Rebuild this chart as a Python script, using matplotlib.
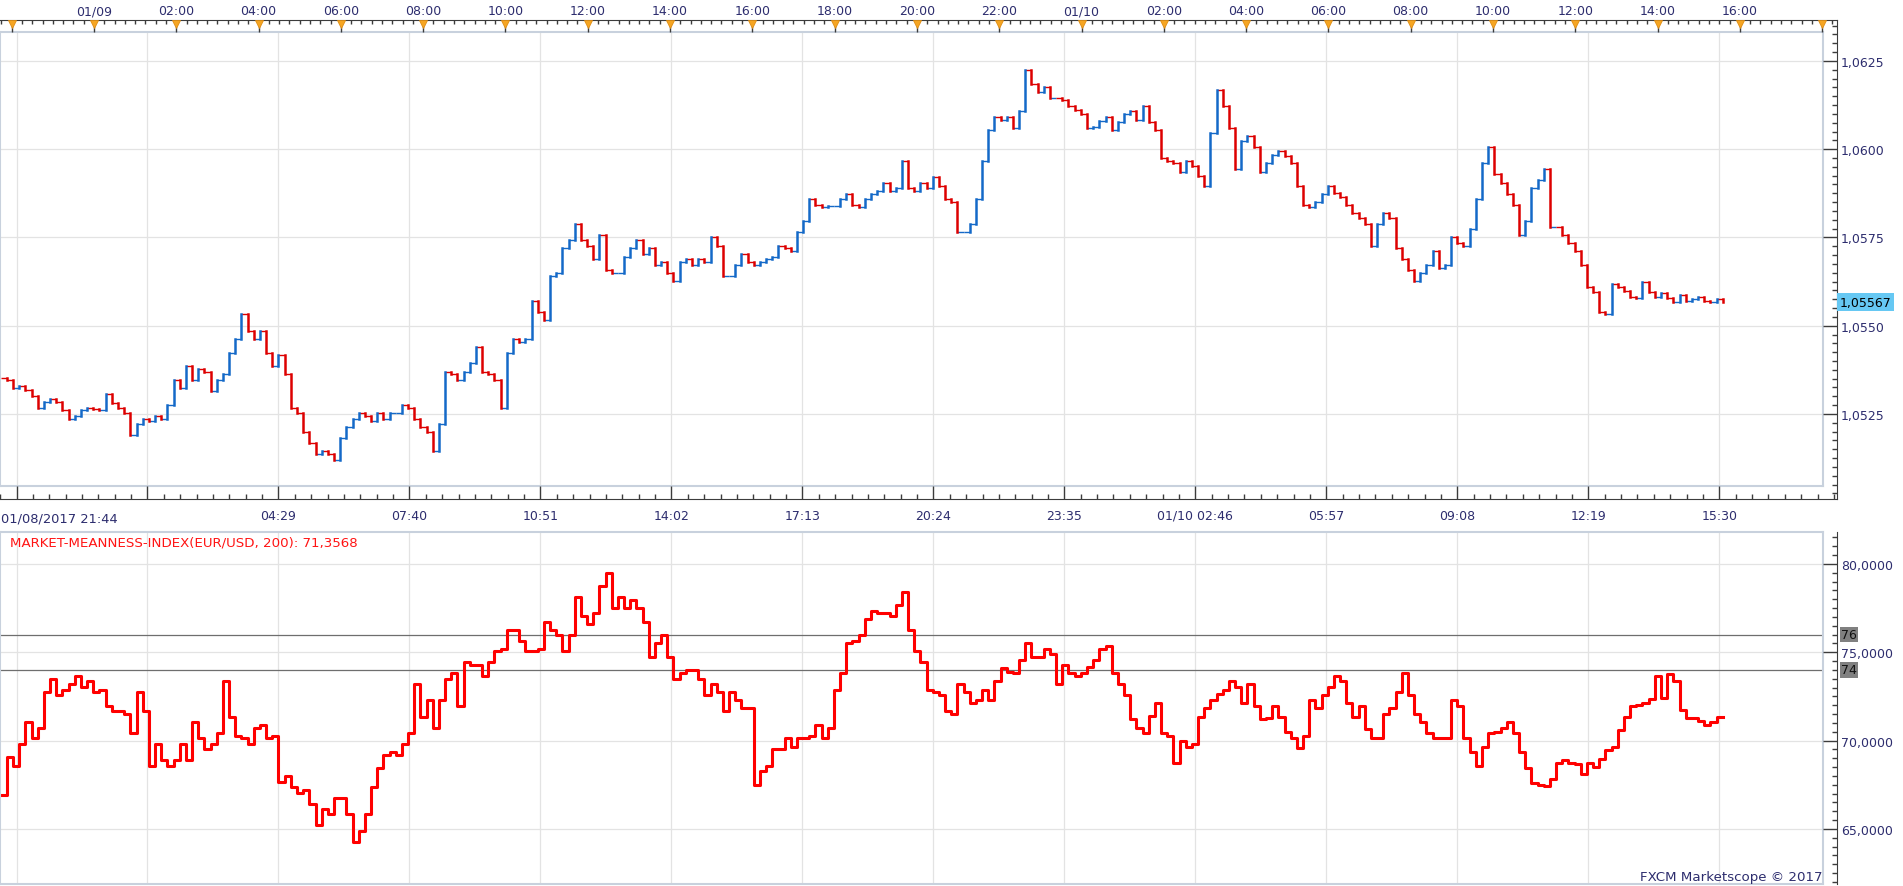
import numpy as np
import pandas as pd
import matplotlib
matplotlib.use('Agg')
import matplotlib.pyplot as plt
from matplotlib import transforms
from matplotlib.ticker import MultipleLocator, FuncFormatter

plt.rcParams['font.family'] = ['DejaVu Sans']
plt.rcParams['font.size'] = 9

W, H = 1903, 887
start = pd.Timestamp('2017-01-08 21:44')
bar_min = 9  # one bar every 9 minutes

# EUR/USD closes
close = [
    1.05351, 1.05346, 1.05323, 1.05330, 1.05318, 1.05300, 1.05268, 1.05284, 1.05292, 1.05284,
    1.05260, 1.05237, 1.05245, 1.05260, 1.05268, 1.05265, 1.05260, 1.05307, 1.05280, 1.05268,
    1.05253, 1.05190, 1.05222, 1.05237, 1.05230, 1.05245, 1.05237, 1.05276, 1.05346, 1.05323,
    1.05385, 1.05346, 1.05377, 1.05370, 1.05315, 1.05346, 1.05362, 1.05424, 1.05463, 1.05533,
    1.05486, 1.05463, 1.05486, 1.05424, 1.05385, 1.05416, 1.05362, 1.05268, 1.05253, 1.05199,
    1.05168, 1.05136, 1.05144, 1.05136, 1.05121, 1.05183, 1.05214, 1.05237, 1.05253, 1.05245,
    1.05230, 1.05253, 1.05237, 1.05253, 1.05253, 1.05276, 1.05268, 1.05237, 1.05214, 1.05199,
    1.05144, 1.05222, 1.05370, 1.05362, 1.05346, 1.05370, 1.05393, 1.05439, 1.05370, 1.05362,
    1.05346, 1.05268, 1.05424, 1.05463, 1.05455, 1.05463, 1.05571, 1.05540, 1.05517, 1.05641,
    1.05649, 1.05719, 1.05742, 1.05789, 1.05742, 1.05727, 1.05688, 1.05758, 1.05657, 1.05649,
    1.05649, 1.05696, 1.05719, 1.05742, 1.05703, 1.05719, 1.05672, 1.05680, 1.05649, 1.05626,
    1.05680, 1.05688, 1.05672, 1.05688, 1.05680, 1.05750, 1.05727, 1.05641, 1.05641, 1.05672,
    1.05703, 1.05680, 1.05672, 1.05680, 1.05688, 1.05696, 1.05727, 1.05719, 1.05711, 1.05765,
    1.05797, 1.05859, 1.05843, 1.05835, 1.05840, 1.05840, 1.05859, 1.05874, 1.05843, 1.05835,
    1.05859, 1.05874, 1.05882, 1.05905, 1.05882, 1.05890, 1.05967, 1.05890, 1.05882, 1.05905,
    1.05890, 1.05921, 1.05897, 1.05859, 1.05851, 1.05765,
    1.05765, 1.05789, 1.05859, 1.05967, 1.06053, 1.06092, 1.06084, 1.06092, 1.06061, 1.06107,
    1.06224, 1.06185, 1.06161, 1.06176, 1.06146, 1.06146, 1.06138, 1.06123, 1.06110, 1.06099,
    1.06061, 1.06064, 1.06079, 1.06092, 1.06053, 1.06076, 1.06099, 1.06107, 1.06084, 1.06123,
    1.06076, 1.06053, 1.05975, 1.05967, 1.05960, 1.05936, 1.05967, 1.05952, 1.05924, 1.05897,
    1.06045, 1.06169, 1.06123, 1.06061, 1.05944, 1.06022, 1.06037, 1.06006, 1.05936, 1.05960,
    1.05983, 1.05995, 1.05980, 1.05960, 1.05897, 1.05843, 1.05835, 1.05851, 1.05874, 1.05897,
    1.05877, 1.05866, 1.05843, 1.05820, 1.05804, 1.05789, 1.05727, 1.05789, 1.05820, 1.05804,
    1.05719, 1.05688, 1.05657, 1.05626, 1.05649, 1.05672, 1.05711, 1.05664, 1.05672, 1.05750,
    1.05734, 1.05727, 1.05773, 1.05859, 1.05960, 1.06006, 1.05929, 1.05905, 1.05874, 1.05843,
    1.05758, 1.05797, 1.05890, 1.05913, 1.05944, 1.05781, 1.05781, 1.05758, 1.05734, 1.05711,
    1.05672, 1.05610, 1.05595, 1.05540, 1.05533, 1.05618, 1.05610, 1.05598, 1.05582, 1.05579,
    1.05623, 1.05595, 1.05582, 1.05592, 1.05579, 1.05567, 1.05587, 1.05571, 1.05576, 1.05582,
    1.05569, 1.05567, 1.05576, 1.05567,
]

# Market Meanness Index (200), same bars
mmi = [
    66.90, 69.05, 68.58, 69.82, 71.05, 70.12, 70.74, 72.74, 73.51, 72.58,
    72.89, 73.20, 73.66, 73.05, 73.35, 72.74, 72.89, 71.97, 71.66, 71.66,
    71.51, 70.43, 72.74, 71.66, 68.58, 69.82, 68.89, 68.58, 68.89, 69.82,
    68.89, 71.05, 70.12, 69.51, 69.82, 70.43, 73.35, 71.35, 70.28, 70.12,
    69.82, 70.74, 70.89, 70.12, 70.28,
    67.66, 67.97, 67.35, 67.05, 67.20, 66.43, 65.20, 66.12, 65.82, 66.74,
    66.74, 65.82, 64.28, 64.89, 65.82, 67.35, 68.43, 69.20, 69.35, 69.20,
    69.82, 70.43, 73.20, 71.35, 72.28, 70.74, 72.28, 73.51, 73.82, 71.97,
    74.43, 74.28, 74.28, 73.66, 74.43, 75.05, 75.20, 76.28, 76.28, 75.66,
    75.05, 75.05, 75.20, 76.74, 76.28, 75.97, 75.05, 75.97, 78.12, 77.05,
    76.58, 77.20, 78.74, 79.51, 77.51, 78.12, 77.51, 77.97, 77.51, 76.74,
    74.74, 75.51, 75.97, 74.74, 73.51, 73.82, 73.97, 73.97, 73.51, 72.58,
    73.20, 72.74, 71.66, 72.74, 72.28, 71.82, 71.82, 67.51, 68.28, 68.58,
    69.51, 69.51, 70.12, 69.66, 70.12, 70.12, 70.28, 70.89, 70.12, 70.74,
    72.89, 73.82, 75.51, 75.66, 75.97, 76.89, 77.35, 77.20, 77.20, 77.05,
    77.66, 78.43, 76.28, 75.05, 74.43, 72.89, 72.74, 72.58, 71.66, 71.51,
    73.20,
    72.74, 72.12, 72.28, 72.89, 72.28, 73.35, 74.12, 73.88, 73.82, 74.58,
    75.51, 74.74, 74.74, 75.20, 74.89, 73.20, 74.28, 73.82, 73.66, 73.82,
    74.18, 74.58, 75.20, 75.35, 73.82, 73.20, 72.58, 71.20, 70.74, 70.43,
    71.42, 72.12, 70.43, 70.28, 68.74, 69.97, 69.66, 69.82, 71.35, 71.82,
    72.28, 72.65, 72.89, 73.35, 73.05, 72.12, 73.20, 71.97, 71.20, 71.29,
    71.97, 71.35, 70.49, 70.12, 69.57, 70.28, 72.28, 71.82, 72.58, 73.05,
    73.66, 73.35, 72.12, 71.35, 71.97, 70.68, 70.12, 70.12, 71.51, 71.82,
    72.74, 73.82, 72.58, 71.51, 71.05, 70.43, 70.12, 70.12, 70.12, 72.28,
    71.97, 70.12, 69.35, 68.58, 69.66, 70.43, 70.49, 70.74, 71.05, 70.43,
    69.35, 68.43, 67.60, 67.51, 67.42, 67.82, 68.74, 68.89, 68.74, 68.65,
    68.12, 68.74, 68.52, 68.95, 69.45, 69.66, 70.58, 71.35, 71.97, 72.03,
    72.12, 72.34, 73.66, 72.43, 73.75, 73.35, 71.72, 71.29, 71.29, 71.11,
    70.89, 71.05, 71.35, 71.36,
]

mmi_levels = [76, 74]
mmi_title = 'MARKET-MEANNESS-INDEX(EUR/USD, 200): 71,3568'
price_tag = '1,05567'
first_label = '01/08/2017 21:44'
copyright_txt = 'FXCM Marketscope \u00a9 2017'

top_ticks = pd.date_range('2017-01-08 22:00', '2017-01-10 18:00', freq='2h')
top_labels = ['', '01/09', '02:00', '04:00', '06:00', '08:00', '10:00', '12:00',
              '14:00', '16:00', '18:00', '20:00', '22:00', '01/10', '02:00',
              '04:00', '06:00', '08:00', '10:00', '12:00', '14:00', '16:00', '']
bottom_ticks = pd.date_range('2017-01-08 22:07', periods=14, freq='191min')
bottom_labels = ['', '', '04:29', '07:40', '10:51', '14:02', '17:13', '20:24',
                 '23:35', '01/10 02:46', '05:57', '09:08', '12:19', '15:30']
price_major = [1.0525, 1.0550, 1.0575, 1.0600, 1.0625]
mmi_major = [65, 70, 75, 80]

NAVY = '#2d2d6e'
BORDER = '#c8d1dd'
GRID = '#e3e3e3'
AXIS = '#3c3c3c'
UP = '#1469c8'
DOWN = '#dd0000'

# time -> pixel layout of the Marketscope window
PX_PER_MIN = 0.68578
PX0 = 0.73


def mins(ts):
    return np.asarray((pd.DatetimeIndex(ts) - start) / pd.Timedelta(minutes=1), dtype=float)


fig = plt.figure(figsize=(W / 100, H / 100), dpi=100)


def add(x0, y0, x1, y1):
    ax = fig.add_axes([x0 / W, 1 - y1 / H, (x1 - x0) / W, (y1 - y0) / H])
    ax._xl = ((x0 - PX0) / PX_PER_MIN, (x1 - PX0) / PX_PER_MIN)
    ax.set_xlim(ax._xl)
    return ax


top_m = mins(top_ticks)
bot_m = mins(bottom_ticks)
x = np.arange(len(close)) * bar_min

# main panels
ax_p = add(0, 33, 1823, 487)
ax_p.set_ylim(1.05046, 1.06332)
ax_i = add(0, 533, 1823, 885)
ax_i.set_ylim(61.88, 81.81)
for ax, ymaj in ((ax_p, price_major), (ax_i, mmi_major)):
    ax.set_xticks(bot_m)
    ax.set_yticks(ymaj)
    ax.tick_params(length=0, labelbottom=False, labelleft=False)
    ax.grid(True, color=GRID, lw=0.9)
    ax.set_axisbelow(True)
    for s in ax.spines.values():
        s.set_color(BORDER)
        s.set_linewidth(1.5)

# candles: open = previous close, short joins so the bars read as one trace
c = np.array(close)
o = np.r_[c[0], c[:-1]]
up = c >= o
cols = np.where(up, UP, DOWN)
ax_p.hlines(o[1:], x[1:] - bar_min, x[1:], colors=cols[1:], lw=1.0)
ax_p.vlines(x[up], o[up], c[up], colors=UP, lw=1.8, capstyle='projecting')
ax_p.vlines(x[~up], o[~up], c[~up], colors=DOWN, lw=1.8, capstyle='projecting')

# indicator
for lvl in mmi_levels:
    ax_i.axhline(lvl, color='#6e6e6e', lw=0.9)
ax_i.step(x, mmi, where='post', color='#ff0000', lw=2.2)


def fmt_factory(nd):
    return FuncFormatter(lambda v, p: f'{v:.{nd}f}'.replace('.', ','))


def strip(y0, y1, lim, major, minor, nd):
    ax = fig.add_axes([1823 / W, 1 - y1 / H, 14 / W, (y1 - y0) / H])
    ax.set_ylim(lim)
    ax.set_xticks([])
    for k in ('left', 'top', 'bottom'):
        ax.spines[k].set_visible(False)
    ax.spines['right'].set_color(AXIS)
    ax.yaxis.tick_right()
    ax.yaxis.set_major_locator(MultipleLocator(major))
    ax.yaxis.set_minor_locator(MultipleLocator(minor))
    ax.yaxis.set_major_formatter(fmt_factory(nd))
    ax.tick_params(axis='y', which='major', direction='in', length=10, width=1,
                   color=AXIS, pad=3, labelcolor=NAVY)
    ax.tick_params(axis='y', which='minor', direction='in', length=3.5, width=1, color=AXIS)
    ax.patch.set_alpha(0)
    return ax


ax_ps = strip(21, 500, (1.05009, 1.06366), 0.0025, 0.00025, 4)
ax_is = strip(533, 885, (61.88, 81.81), 5, 0.5, 4)

# last price tag
tr = transforms.offset_copy(transforms.blended_transform_factory(ax_ps.transAxes, ax_ps.transData),
                            fig=fig, x=2, units='points')
ax_ps.text(1.0, close[-1], price_tag, transform=tr, ha='left', va='center', color='black',
           bbox=dict(facecolor='#66c8f3', edgecolor='none', pad=2), clip_on=False)
tr2 = transforms.offset_copy(transforms.blended_transform_factory(ax_is.transAxes, ax_is.transData),
                             fig=fig, x=3, units='points')
for lvl in mmi_levels:
    ax_is.text(1.0, lvl, str(lvl), transform=tr2, ha='left', va='center', color='#111111',
               bbox=dict(facecolor='#808080', edgecolor='none', pad=0.8), clip_on=False)

# top time ruler
ax_t = add(0, 21, 1837, 33)
ax_t.set_ylim(0, 1)
ax_t.set_yticks([])
for k in ('left', 'right', 'bottom'):
    ax_t.spines[k].set_visible(False)
ax_t.spines['top'].set_color(AXIS)
ax_t.xaxis.tick_top()
ax_t.set_xticks(top_m)
ax_t.set_xticklabels(top_labels)
ax_t.set_xticks(np.arange(top_m[0] - 15, top_m[-1] + 20, 15), minor=True)
ax_t.set_xlim(ax_t._xl)
ax_t.tick_params(axis='x', which='major', direction='in', length=8.6, width=1, color=AXIS,
                 pad=2.0, labelcolor=NAVY)
ax_t.tick_params(axis='x', which='minor', direction='in', length=3, width=1, color=AXIS)
ax_t.plot(top_m, np.full(len(top_m), 0.64), 'v', ms=6, color='#f6a623', mec='#e08d12',
          mew=0.6, clip_on=False, zorder=3)
ax_t.patch.set_alpha(0)

# bottom time ruler
ax_b = add(0, 487, 1837, 500)
ax_b.set_ylim(0, 1)
ax_b.set_yticks([])
for k in ('left', 'right', 'top'):
    ax_b.spines[k].set_visible(False)
ax_b.spines['bottom'].set_color(AXIS)
ax_b.set_xticks(bot_m)
ax_b.set_xticklabels(bottom_labels)
ax_b.set_xticks(np.arange(bot_m[0] - 191, bot_m[-1] + 191, 191 / 8), minor=True)
ax_b.set_xlim(ax_b._xl)
ax_b.tick_params(axis='x', which='major', direction='in', length=9.4, width=1, color=AXIS,
                 pad=7.0, labelcolor=NAVY)
ax_b.tick_params(axis='x', which='minor', direction='in', length=3.6, width=1, color=AXIS)
ax_b.patch.set_alpha(0)

fig.text(1 / W, 1 - 522 / H, first_label, ha='left', va='baseline', color=NAVY, fontsize=9.4)
fig.text(10 / W, 1 - 547 / H, mmi_title, ha='left', va='baseline', color='#ff1414', fontsize=9.6)
fig.text(1822 / W, 1 - 881 / H, copyright_txt, ha='right', va='baseline', color=NAVY, fontsize=9.6)

fig.savefig('out.png', dpi=100)
